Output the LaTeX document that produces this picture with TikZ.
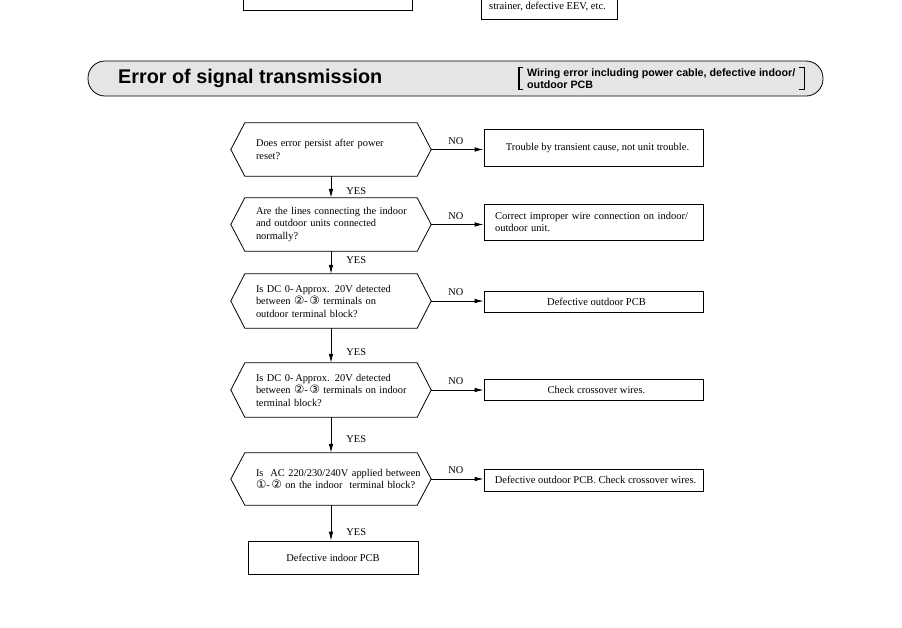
\documentclass[tikz,border=0pt]{standalone}
\usepackage{fontspec}
\setmainfont{Liberation Serif}
\setsansfont{Liberation Sans}
\newfontfamily\circfont{DejaVu Sans}
\usepackage{tikz}
\usetikzlibrary{arrows.meta}
\newcommand{\cnum}[1]{{\circfont\fontsize{11.5}{12}\selectfont #1}}

\tikzset{
  dec/.style={text width=150pt, inner xsep=11pt, inner ysep=0pt, align=left,
    font=\fontsize{10.4}{12.5}\selectfont},
  res/.style={draw, line width=0.8pt, minimum width=219pt, align=center,
    inner sep=0pt, font=\fontsize{10.5}{12}\selectfont},
  arr/.style={line width=0.8pt, -{Latex[length=9pt,width=4.5pt]}},
  lab/.style={inner sep=1pt, font=\fontsize{10.4}{12}\selectfont},
}

\begin{document}
\begin{tikzpicture}[x=1pt,y=-1pt]
\useasboundingbox (0,0) rectangle (902,627);
\clip (0,0) rectangle (902,627);

% boxes of the previous chart, cut off at the top
\draw[line width=0.8pt] (243,-20) -- (243,10) -- (412,10) -- (412,-20);
\node[anchor=base west, inner sep=0pt, font=\fontsize{10.5}{12}\selectfont] (prev) at (489,9) {strainer, defective EEV, etc.};
\draw[line width=0.8pt] (481,-20) -- (481,19) -- (617,19) -- (617,-20);

% heading
\node[draw, fill=black!10, line width=0.8pt, rounded corners=17pt,
  minimum width=735pt, minimum height=35pt] (hdr) at (455.5,78.5) {};
\node[anchor=west, inner sep=0pt, font=\sffamily\bfseries\fontsize{19.8}{24}\selectfont] (title) at (118,78) {Error of signal transmission};
\node[anchor=west, align=left, inner sep=0pt, font=\sffamily\bfseries\fontsize{10.7}{11.5}\selectfont] (note) at (527,78.5)
  {Wiring error including power cable, defective indoor/\\outdoor PCB};
\draw[line width=1.4pt]
([xshift=-4pt,yshift=1pt]note.north west) -- ++(-4,0) |- ([xshift=-4pt,yshift=-1pt]note.south west)
([xshift=4pt,yshift=1pt]note.north east) -- ++(5,0) |- ([xshift=4pt,yshift=-1pt]note.east |- note.south);

% questions
\node[dec, minimum height=53pt] (q1) at (331,149.5) {Does error persist after power\\reset?};
\node[dec, minimum height=53pt] (q2) at (331,224.5) {\mbox{Are the lines connecting the indoor}\\and outdoor units connected\\normally?};
\node[dec, minimum height=54pt] (q3) at (331,301) {Is DC 0-\,Approx. 20V detected\\between \cnum{②}-\,\cnum{③} terminals on\\outdoor terminal block?};
\node[dec, minimum height=54pt] (q4) at (331,390) {Is DC 0-\,Approx. 20V detected\\\mbox{between \cnum{②}-\,\cnum{③} terminals on indoor}\\terminal block?};
\node[dec, minimum height=52pt] (q5) at (331,479) {\mbox{Is~ AC 220/230/240V applied between}\\\mbox{\cnum{①}-\,\cnum{②} on the indoor~ terminal block?}};
\foreach \q in {q1,q2,q3,q4,q5}
  \draw[line width=0.8pt] (\q.north west) -- (\q.north east) -- ([xshift=14pt]\q.east)
    -- (\q.south east) -- (\q.south west) -- ([xshift=-14pt]\q.west) -- cycle;

% results
\node[res, minimum height=37pt] (r1) at (593.5,147.5) {\hspace*{8pt}Trouble by transient cause, not unit trouble.};
\node[res, minimum height=36pt, align=left, text width=197pt, inner xsep=11pt] (r2) at (593.5,222) {Correct improper wire connection on indoor/\\outdoor unit.};
\node[res, minimum height=21pt] (r3) at (593.5,301.5) {\hspace*{6pt}Defective outdoor PCB};
\node[res, minimum height=21pt] (r4) at (593.5,389.5) {\hspace*{6pt}Check crossover wires.};
\node[res, minimum height=22pt] (r5) at (593.5,480) {\hspace*{4pt}Defective outdoor PCB. Check crossover wires.};
\node[res, minimum width=170pt, minimum height=33pt] (fin) at (333,557.5) {Defective indoor PCB};

% YES
\draw[arr] (q1.south) -- node[lab, right=14pt, pos=.68] {YES} (q2.north);
\draw[arr] (q2.south) -- node[lab, right=14pt, pos=.38] {YES} (q3.north);
\draw[arr] (q3.south) -- node[lab, right=14pt, pos=.70] {YES} (q4.north);
\draw[arr] (q4.south) -- node[lab, right=14pt, pos=.62] {YES} (q5.north);
\draw[arr] (q5.south) -- node[lab, right=14pt, pos=.75] {YES} (q5.south |- fin.north);

% NO
\draw[arr] ([xshift=14pt]q1.east) -- node[lab, above=4pt, pos=.47] {NO} (r1.west |- q1.east);
\draw[arr] ([xshift=14pt]q2.east) -- node[lab, above=4pt, pos=.47] {NO} (r2.west |- q2.east);
\draw[arr] ([xshift=14pt]q3.east) -- node[lab, above=4pt, pos=.47] {NO} (r3.west |- q3.east);
\draw[arr] ([xshift=14pt]q4.east) -- node[lab, above=4pt, pos=.47] {NO} (r4.west |- q4.east);
\draw[arr] ([xshift=14pt]q5.east) -- node[lab, above=4pt, pos=.47] {NO} (r5.west |- q5.east);
\end{tikzpicture}
\end{document}
